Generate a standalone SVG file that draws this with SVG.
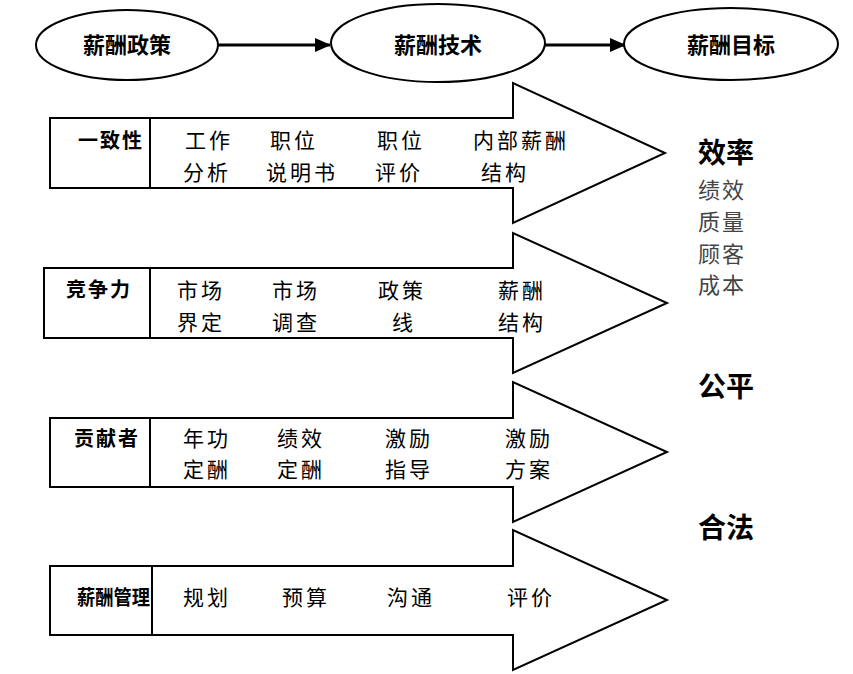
<svg xmlns="http://www.w3.org/2000/svg" width="853" height="674" viewBox="0 0 853 674">
<defs>
<marker id="ah" markerWidth="16" markerHeight="14" refX="15" refY="7" orient="auto" markerUnits="userSpaceOnUse" viewBox="0 0 16 14">
<path d="M0,0 L16,7 L0,14 Z" fill="#000"/>
</marker>
<style>
.ell{fill:#fff;stroke:#000;stroke-width:2}
.arr{fill:#fff;stroke:#000;stroke-width:2;stroke-linejoin:miter}
.div{stroke:#000;stroke-width:2}
.con{stroke:#000;stroke-width:3;fill:none}
.et{font-family:"Noto Sans CJK SC","Noto Sans",sans-serif;font-size:22px;font-weight:bold;text-anchor:middle;fill:#000}
.lb{font-family:"Noto Sans CJK SC","Noto Sans",sans-serif;font-size:20px;font-weight:bold;fill:#000}
.it{font-family:"Noto Sans CJK SC","Noto Sans",sans-serif;font-size:21px;fill:#000;letter-spacing:3px}
.big{font-family:"Noto Sans CJK SC","Noto Sans",sans-serif;font-size:28px;font-weight:bold;fill:#000}
.sm{font-family:"Noto Sans CJK SC","Noto Sans",sans-serif;font-size:22px;fill:#444;letter-spacing:2px}
</style>
</defs>
<g id="connectors">
<line class="con" x1="218" y1="45" x2="330" y2="45" marker-end="url(#ah)"/>
<line class="con" x1="545" y1="45" x2="625" y2="45" marker-end="url(#ah)"/>
</g>
<g id="policy"><ellipse class="ell" cx="127" cy="45" rx="91" ry="35"/><text class="et" x="127" y="53">薪酬政策</text></g>
<g id="technique"><ellipse class="ell" cx="438" cy="43" rx="107" ry="39"/><text class="et" x="438" y="53">薪酬技术</text></g>
<g id="goal"><ellipse class="ell" cx="731" cy="44" rx="107" ry="36"/><text class="et" x="731" y="53">薪酬目标</text></g>

<g id="consistency">
<path class="arr" d="M50,118 H513 V83 L665,153 L513,223 V188 H50 Z"/>
<line class="div" x1="150" y1="118" x2="150" y2="188"/>
<text class="lb" x="78" y="148" letter-spacing="2">一致性</text>
<text class="it" x="185" y="148">工作</text><text class="it" x="183" y="180">分析</text>
<text class="it" x="270" y="148">职位</text><text class="it" x="266" y="180">说明书</text>
<text class="it" x="377" y="148">职位</text><text class="it" x="375" y="180">评价</text>
<text class="it" x="473" y="148" letter-spacing="1">内部薪酬</text><text class="it" x="481" y="180">结构</text>
</g>

<g id="competitiveness">
<path class="arr" d="M44,268 H513 V233 L667,303 L513,373 V338 H44 Z"/>
<line class="div" x1="150" y1="268" x2="150" y2="338"/>
<text class="lb" x="66" y="297" letter-spacing="2">竞争力</text>
<text class="it" x="177" y="298">市场</text><text class="it" x="177" y="330">界定</text>
<text class="it" x="272" y="298">市场</text><text class="it" x="272" y="330">调查</text>
<text class="it" x="378" y="298">政策</text><text class="it" x="392" y="330">线</text>
<text class="it" x="498" y="298">薪酬</text><text class="it" x="498" y="330">结构</text>
</g>

<g id="contributor">
<path class="arr" d="M50,418 H513 V382 L667,452 L513,522 V487 H50 Z"/>
<line class="div" x1="150" y1="418" x2="150" y2="487"/>
<text class="lb" x="74" y="446" letter-spacing="2">贡献者</text>
<text class="it" x="183" y="446">年功</text><text class="it" x="183" y="477">定酬</text>
<text class="it" x="277" y="446">绩效</text><text class="it" x="277" y="477">定酬</text>
<text class="it" x="385" y="446">激励</text><text class="it" x="385" y="477">指导</text>
<text class="it" x="505" y="446">激励</text><text class="it" x="505" y="477">方案</text>
</g>

<g id="management">
<path class="arr" d="M50,566 H513 V530 L667,600 L513,670 V635 H50 Z"/>
<line class="div" x1="152" y1="566" x2="152" y2="635"/>
<text class="lb" x="77" y="605" font-weight="normal" font-size="19" textLength="73" lengthAdjust="spacingAndGlyphs">薪酬管理</text>
<text class="it" x="183" y="605">规划</text>
<text class="it" x="282" y="605">预算</text>
<text class="it" x="387" y="605">沟通</text>
<text class="it" x="507" y="605">评价</text>
</g>

<g id="targets">
<text class="big" x="698" y="163">效率</text>
<text class="sm" x="698" y="198">绩效</text>
<text class="sm" x="698" y="230">质量</text>
<text class="sm" x="698" y="262">顾客</text>
<text class="sm" x="698" y="293">成本</text>
<text class="big" x="698" y="397">公平</text>
<text class="big" x="698" y="538">合法</text>
</g>
</svg>
